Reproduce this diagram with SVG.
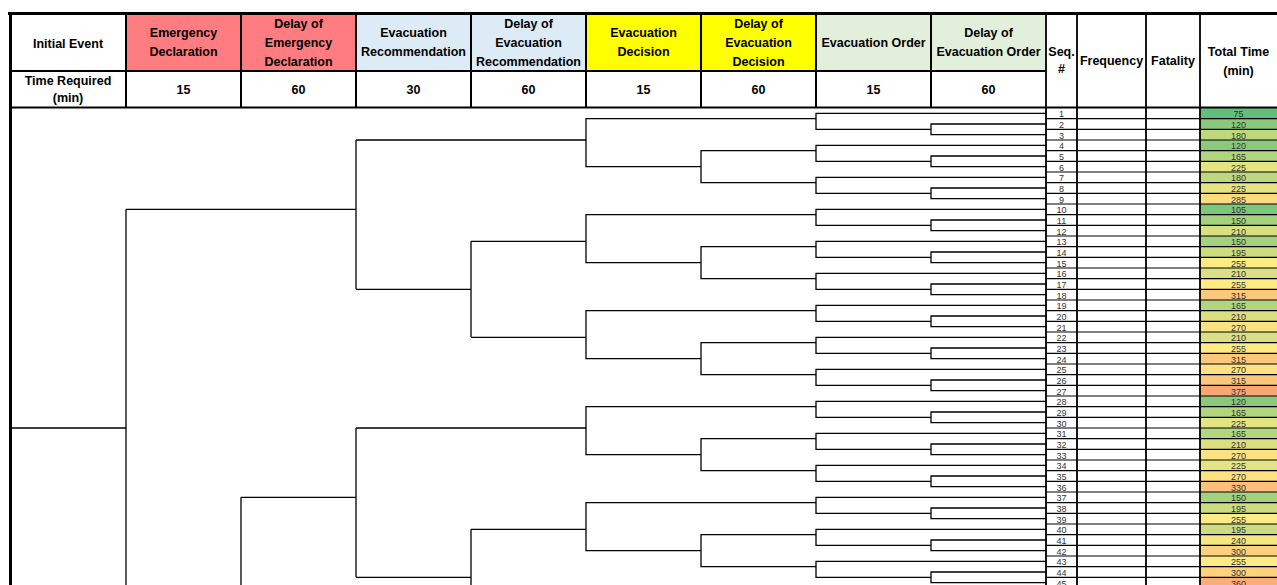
<svg xmlns="http://www.w3.org/2000/svg" width="1277" height="585" viewBox="0 0 1277 585">
<style>
.hd{font-family:"Liberation Sans",Arial,sans-serif;font-weight:bold;font-size:12.5px;fill:#000;text-anchor:middle}
.num{font-family:"Liberation Sans",Arial,sans-serif;font-size:9px;fill:#333;text-anchor:middle}
.grid{stroke:#000;fill:none}
.tree{stroke:#000;stroke-width:1.3;fill:none;vector-effect:non-scaling-stroke}
.rl{stroke:#000;stroke-width:1.1;fill:none;vector-effect:non-scaling-stroke}
.tt{stroke:none}
</style>
<rect width="1277" height="585" fill="#fff"/>
<!-- header cells -->
<g id="h-initial"><text class="hd" x="68" y="47.5">Initial Event</text><text class="hd" x="68" y="84.5">Time Required</text><text class="hd" x="68" y="101.5">(min)</text></g>
<g id="h-ed"><rect x="126" y="13" width="115" height="58" fill="#FF7C80"/><text class="hd" x="183.5" y="36.5">Emergency</text><text class="hd" x="183.5" y="55.5">Declaration</text><text class="hd" x="183.5" y="93.5">15</text></g>
<g id="h-edd"><rect x="241" y="13" width="115" height="58" fill="#FF7C80"/><text class="hd" x="298.5" y="27.5">Delay of</text><text class="hd" x="298.5" y="46.5">Emergency</text><text class="hd" x="298.5" y="65.5">Declaration</text><text class="hd" x="298.5" y="93.5">60</text></g>
<g id="h-er"><rect x="356" y="13" width="115" height="58" fill="#DDEBF7"/><text class="hd" x="413.5" y="36.5">Evacuation</text><text class="hd" x="413.5" y="55.5">Recommendation</text><text class="hd" x="413.5" y="93.5">30</text></g>
<g id="h-erd"><rect x="471" y="13" width="115" height="58" fill="#DDEBF7"/><text class="hd" x="528.5" y="27.5">Delay of</text><text class="hd" x="528.5" y="46.5">Evacuation</text><text class="hd" x="528.5" y="65.5">Recommendation</text><text class="hd" x="528.5" y="93.5">60</text></g>
<g id="h-dec"><rect x="586" y="13" width="115" height="58" fill="#FFFF00"/><text class="hd" x="643.5" y="36.5">Evacuation</text><text class="hd" x="643.5" y="55.5">Decision</text><text class="hd" x="643.5" y="93.5">15</text></g>
<g id="h-decd"><rect x="701" y="13" width="115" height="58" fill="#FFFF00"/><text class="hd" x="758.5" y="27.5">Delay of</text><text class="hd" x="758.5" y="46.5">Evacuation</text><text class="hd" x="758.5" y="65.5">Decision</text><text class="hd" x="758.5" y="93.5">60</text></g>
<g id="h-ord"><rect x="816" y="13" width="115" height="58" fill="#E2EFDA"/><text class="hd" x="873.5" y="46.5">Evacuation Order</text><text class="hd" x="873.5" y="93.5">15</text></g>
<g id="h-ordd"><rect x="931" y="13" width="115" height="58" fill="#E2EFDA"/><text class="hd" x="988.5" y="36.5">Delay of</text><text class="hd" x="988.5" y="55.5">Evacuation Order</text><text class="hd" x="988.5" y="93.5">60</text></g>
<g id="h-seq"><text class="hd" x="1061.5" y="55.5">Seq.</text><text class="hd" x="1061.5" y="73">#</text></g>
<g id="h-freq"><text class="hd" x="1111.5" y="64.5">Frequency</text></g>
<g id="h-fat"><text class="hd" x="1173" y="64.5">Fatality</text></g>
<g id="h-total"><text class="hd" x="1238.5" y="55.5">Total Time</text><text class="hd" x="1238.5" y="74.5">(min)</text></g>

<!-- table rows -->
<g id="row-1" transform="translate(0,108)"><rect class="tt" x="1200" width="77" height="10.67" fill="#63BE7B"/><text class="num" x="1061.5" y="9.2">1</text><text class="num" x="1238.5" y="9.2">75</text></g>
<g id="row-2" transform="translate(0,118.67)"><rect class="tt" x="1200" width="77" height="10.67" fill="#8AC97D"/><text class="num" x="1061.5" y="9.2">2</text><text class="num" x="1238.5" y="9.2">120</text></g>
<g id="row-3" transform="translate(0,129.33)"><rect class="tt" x="1200" width="77" height="10.67" fill="#BED880"/><text class="num" x="1061.5" y="9.2">3</text><text class="num" x="1238.5" y="9.2">180</text></g>
<g id="row-4" transform="translate(0,140)"><rect class="tt" x="1200" width="77" height="10.67" fill="#8AC97D"/><text class="num" x="1061.5" y="9.2">4</text><text class="num" x="1238.5" y="9.2">120</text></g>
<g id="row-5" transform="translate(0,150.67)"><rect class="tt" x="1200" width="77" height="10.67" fill="#B1D580"/><text class="num" x="1061.5" y="9.2">5</text><text class="num" x="1238.5" y="9.2">165</text></g>
<g id="row-6" transform="translate(0,161.33)"><rect class="tt" x="1200" width="77" height="10.67" fill="#E5E483"/><text class="num" x="1061.5" y="9.2">6</text><text class="num" x="1238.5" y="9.2">225</text></g>
<g id="row-7" transform="translate(0,172)"><rect class="tt" x="1200" width="77" height="10.67" fill="#BED880"/><text class="num" x="1061.5" y="9.2">7</text><text class="num" x="1238.5" y="9.2">180</text></g>
<g id="row-8" transform="translate(0,182.67)"><rect class="tt" x="1200" width="77" height="10.67" fill="#E5E483"/><text class="num" x="1061.5" y="9.2">8</text><text class="num" x="1238.5" y="9.2">225</text></g>
<g id="row-9" transform="translate(0,193.33)"><rect class="tt" x="1200" width="77" height="10.67" fill="#FEDA81"/><text class="num" x="1061.5" y="9.2">9</text><text class="num" x="1238.5" y="9.2">285</text></g>
<g id="row-10" transform="translate(0,204)"><rect class="tt" x="1200" width="77" height="10.67" fill="#7DC67D"/><text class="num" x="1061.5" y="9.2">10</text><text class="num" x="1238.5" y="9.2">105</text></g>
<g id="row-11" transform="translate(0,214.67)"><rect class="tt" x="1200" width="77" height="10.67" fill="#A4D17F"/><text class="num" x="1061.5" y="9.2">11</text><text class="num" x="1238.5" y="9.2">150</text></g>
<g id="row-12" transform="translate(0,225.33)"><rect class="tt" x="1200" width="77" height="10.67" fill="#D8E082"/><text class="num" x="1061.5" y="9.2">12</text><text class="num" x="1238.5" y="9.2">210</text></g>
<g id="row-13" transform="translate(0,236)"><rect class="tt" x="1200" width="77" height="10.67" fill="#A4D17F"/><text class="num" x="1061.5" y="9.2">13</text><text class="num" x="1238.5" y="9.2">150</text></g>
<g id="row-14" transform="translate(0,246.67)"><rect class="tt" x="1200" width="77" height="10.67" fill="#CBDC81"/><text class="num" x="1061.5" y="9.2">14</text><text class="num" x="1238.5" y="9.2">195</text></g>
<g id="row-15" transform="translate(0,257.33)"><rect class="tt" x="1200" width="77" height="10.67" fill="#FFEB84"/><text class="num" x="1061.5" y="9.2">15</text><text class="num" x="1238.5" y="9.2">255</text></g>
<g id="row-16" transform="translate(0,268)"><rect class="tt" x="1200" width="77" height="10.67" fill="#D8E082"/><text class="num" x="1061.5" y="9.2">16</text><text class="num" x="1238.5" y="9.2">210</text></g>
<g id="row-17" transform="translate(0,278.67)"><rect class="tt" x="1200" width="77" height="10.67" fill="#FFEB84"/><text class="num" x="1061.5" y="9.2">17</text><text class="num" x="1238.5" y="9.2">255</text></g>
<g id="row-18" transform="translate(0,289.33)"><rect class="tt" x="1200" width="77" height="10.67" fill="#FDC87D"/><text class="num" x="1061.5" y="9.2">18</text><text class="num" x="1238.5" y="9.2">315</text></g>
<g id="row-19" transform="translate(0,300)"><rect class="tt" x="1200" width="77" height="10.67" fill="#B1D580"/><text class="num" x="1061.5" y="9.2">19</text><text class="num" x="1238.5" y="9.2">165</text></g>
<g id="row-20" transform="translate(0,310.67)"><rect class="tt" x="1200" width="77" height="10.67" fill="#D8E082"/><text class="num" x="1061.5" y="9.2">20</text><text class="num" x="1238.5" y="9.2">210</text></g>
<g id="row-21" transform="translate(0,321.33)"><rect class="tt" x="1200" width="77" height="10.67" fill="#FEE282"/><text class="num" x="1061.5" y="9.2">21</text><text class="num" x="1238.5" y="9.2">270</text></g>
<g id="row-22" transform="translate(0,332)"><rect class="tt" x="1200" width="77" height="10.67" fill="#D8E082"/><text class="num" x="1061.5" y="9.2">22</text><text class="num" x="1238.5" y="9.2">210</text></g>
<g id="row-23" transform="translate(0,342.67)"><rect class="tt" x="1200" width="77" height="10.67" fill="#FFEB84"/><text class="num" x="1061.5" y="9.2">23</text><text class="num" x="1238.5" y="9.2">255</text></g>
<g id="row-24" transform="translate(0,353.33)"><rect class="tt" x="1200" width="77" height="10.67" fill="#FDC87D"/><text class="num" x="1061.5" y="9.2">24</text><text class="num" x="1238.5" y="9.2">315</text></g>
<g id="row-25" transform="translate(0,364)"><rect class="tt" x="1200" width="77" height="10.67" fill="#FEE282"/><text class="num" x="1061.5" y="9.2">25</text><text class="num" x="1238.5" y="9.2">270</text></g>
<g id="row-26" transform="translate(0,374.67)"><rect class="tt" x="1200" width="77" height="10.67" fill="#FDC87D"/><text class="num" x="1061.5" y="9.2">26</text><text class="num" x="1238.5" y="9.2">315</text></g>
<g id="row-27" transform="translate(0,385.33)"><rect class="tt" x="1200" width="77" height="10.67" fill="#FBA677"/><text class="num" x="1061.5" y="9.2">27</text><text class="num" x="1238.5" y="9.2">375</text></g>
<g id="row-28" transform="translate(0,396)"><rect class="tt" x="1200" width="77" height="10.67" fill="#8AC97D"/><text class="num" x="1061.5" y="9.2">28</text><text class="num" x="1238.5" y="9.2">120</text></g>
<g id="row-29" transform="translate(0,406.67)"><rect class="tt" x="1200" width="77" height="10.67" fill="#B1D580"/><text class="num" x="1061.5" y="9.2">29</text><text class="num" x="1238.5" y="9.2">165</text></g>
<g id="row-30" transform="translate(0,417.33)"><rect class="tt" x="1200" width="77" height="10.67" fill="#E5E483"/><text class="num" x="1061.5" y="9.2">30</text><text class="num" x="1238.5" y="9.2">225</text></g>
<g id="row-31" transform="translate(0,428)"><rect class="tt" x="1200" width="77" height="10.67" fill="#B1D580"/><text class="num" x="1061.5" y="9.2">31</text><text class="num" x="1238.5" y="9.2">165</text></g>
<g id="row-32" transform="translate(0,438.67)"><rect class="tt" x="1200" width="77" height="10.67" fill="#D8E082"/><text class="num" x="1061.5" y="9.2">32</text><text class="num" x="1238.5" y="9.2">210</text></g>
<g id="row-33" transform="translate(0,449.33)"><rect class="tt" x="1200" width="77" height="10.67" fill="#FEE282"/><text class="num" x="1061.5" y="9.2">33</text><text class="num" x="1238.5" y="9.2">270</text></g>
<g id="row-34" transform="translate(0,460)"><rect class="tt" x="1200" width="77" height="10.67" fill="#E5E483"/><text class="num" x="1061.5" y="9.2">34</text><text class="num" x="1238.5" y="9.2">225</text></g>
<g id="row-35" transform="translate(0,470.67)"><rect class="tt" x="1200" width="77" height="10.67" fill="#FEE282"/><text class="num" x="1061.5" y="9.2">35</text><text class="num" x="1238.5" y="9.2">270</text></g>
<g id="row-36" transform="translate(0,481.33)"><rect class="tt" x="1200" width="77" height="10.67" fill="#FDC07C"/><text class="num" x="1061.5" y="9.2">36</text><text class="num" x="1238.5" y="9.2">330</text></g>
<g id="row-37" transform="translate(0,492)"><rect class="tt" x="1200" width="77" height="10.67" fill="#A4D17F"/><text class="num" x="1061.5" y="9.2">37</text><text class="num" x="1238.5" y="9.2">150</text></g>
<g id="row-38" transform="translate(0,502.67)"><rect class="tt" x="1200" width="77" height="10.67" fill="#CBDC81"/><text class="num" x="1061.5" y="9.2">38</text><text class="num" x="1238.5" y="9.2">195</text></g>
<g id="row-39" transform="translate(0,513.33)"><rect class="tt" x="1200" width="77" height="10.67" fill="#FFEB84"/><text class="num" x="1061.5" y="9.2">39</text><text class="num" x="1238.5" y="9.2">255</text></g>
<g id="row-40" transform="translate(0,524)"><rect class="tt" x="1200" width="77" height="10.67" fill="#CBDC81"/><text class="num" x="1061.5" y="9.2">40</text><text class="num" x="1238.5" y="9.2">195</text></g>
<g id="row-41" transform="translate(0,534.67)"><rect class="tt" x="1200" width="77" height="10.67" fill="#F2E783"/><text class="num" x="1061.5" y="9.2">41</text><text class="num" x="1238.5" y="9.2">240</text></g>
<g id="row-42" transform="translate(0,545.33)"><rect class="tt" x="1200" width="77" height="10.67" fill="#FED17F"/><text class="num" x="1061.5" y="9.2">42</text><text class="num" x="1238.5" y="9.2">300</text></g>
<g id="row-43" transform="translate(0,556)"><rect class="tt" x="1200" width="77" height="10.67" fill="#FFEB84"/><text class="num" x="1061.5" y="9.2">43</text><text class="num" x="1238.5" y="9.2">255</text></g>
<g id="row-44" transform="translate(0,566.67)"><rect class="tt" x="1200" width="77" height="10.67" fill="#FED17F"/><text class="num" x="1061.5" y="9.2">44</text><text class="num" x="1238.5" y="9.2">300</text></g>
<g id="row-45" transform="translate(0,577.33)"><rect class="tt" x="1200" width="77" height="10.67" fill="#FCAE78"/><text class="num" x="1061.5" y="9.2">45</text><text class="num" x="1238.5" y="9.2">360</text></g>

<!-- row lines in half-row units -->
<g id="row-lines" transform="translate(0,108) scale(1,5.33333)">
<path class="rl" d="M1046 2H1277M1046 4H1277M1046 6H1277M1046 8H1277M1046 10H1277M1046 12H1277M1046 14H1277M1046 16H1277M1046 18H1277M1046 20H1277M1046 22H1277M1046 24H1277M1046 26H1277M1046 28H1277M1046 30H1277M1046 32H1277M1046 34H1277M1046 36H1277M1046 38H1277M1046 40H1277M1046 42H1277M1046 44H1277M1046 46H1277M1046 48H1277M1046 50H1277M1046 52H1277M1046 54H1277M1046 56H1277M1046 58H1277M1046 60H1277M1046 62H1277M1046 64H1277M1046 66H1277M1046 68H1277M1046 70H1277M1046 72H1277M1046 74H1277M1046 76H1277M1046 78H1277M1046 80H1277M1046 82H1277M1046 84H1277M1046 86H1277M1046 88H1277"/>
</g>

<!-- connectors of the event tree, in half-row units -->
<g id="connectors" transform="translate(0,108) scale(1,5.33333)">
<path class="tree" d="M10 60H126M126 19V91M126 19H356M241 73V91M241 73H356"/>
<path class="tree" d="M356 6V34M356 6H586M356 34H471M471 25V43M471 25H586M471 43H586"/>
<path class="tree" d="M356 60V88M356 60H586M356 88H471M471 79V91M471 79H586"/>
<path class="tree" d="M816 2H586V11H701M816 20H586V29H701M816 38H586V47H701M816 56H586V65H701M816 74H586V83H701"/>
<path class="tree" d="M816 8H701V14H816M816 26H701V32H816M816 44H701V50H816M816 62H701V68H816M816 80H701V86H816"/>
<path class="tree" d="M1046 1H816V4H931M1046 3H931V5H1046M1046 7H816V10H931M1046 9H931V11H1046M1046 13H816V16H931M1046 15H931V17H1046M1046 19H816V22H931M1046 21H931V23H1046M1046 25H816V28H931M1046 27H931V29H1046M1046 31H816V34H931M1046 33H931V35H1046M1046 37H816V40H931M1046 39H931V41H1046M1046 43H816V46H931M1046 45H931V47H1046M1046 49H816V52H931M1046 51H931V53H1046M1046 55H816V58H931M1046 57H931V59H1046M1046 61H816V64H931M1046 63H931V65H1046M1046 67H816V70H931M1046 69H931V71H1046M1046 73H816V76H931M1046 75H931V77H1046M1046 79H816V82H931M1046 81H931V83H1046M1046 85H816V88H931M1046 87H931V89H1046"/>
</g>

<!-- table borders -->
<g id="borders">
<path class="grid" stroke-width="2" d="M126 13V107.5M241 13V107.5M356 13V107.5M471 13V107.5M586 13V107.5M701 13V107.5M816 13V107.5M931 13V107.5M10 71H1046M10 107.5H1277"/>
<path class="grid" stroke-width="1.8" d="M1046 13V585M1077 13V585M1146 13V585M1200 13V585"/>
<path class="grid" stroke-width="3" d="M8 13.5H1277M10.5 12V585"/>
</g>
</svg>
